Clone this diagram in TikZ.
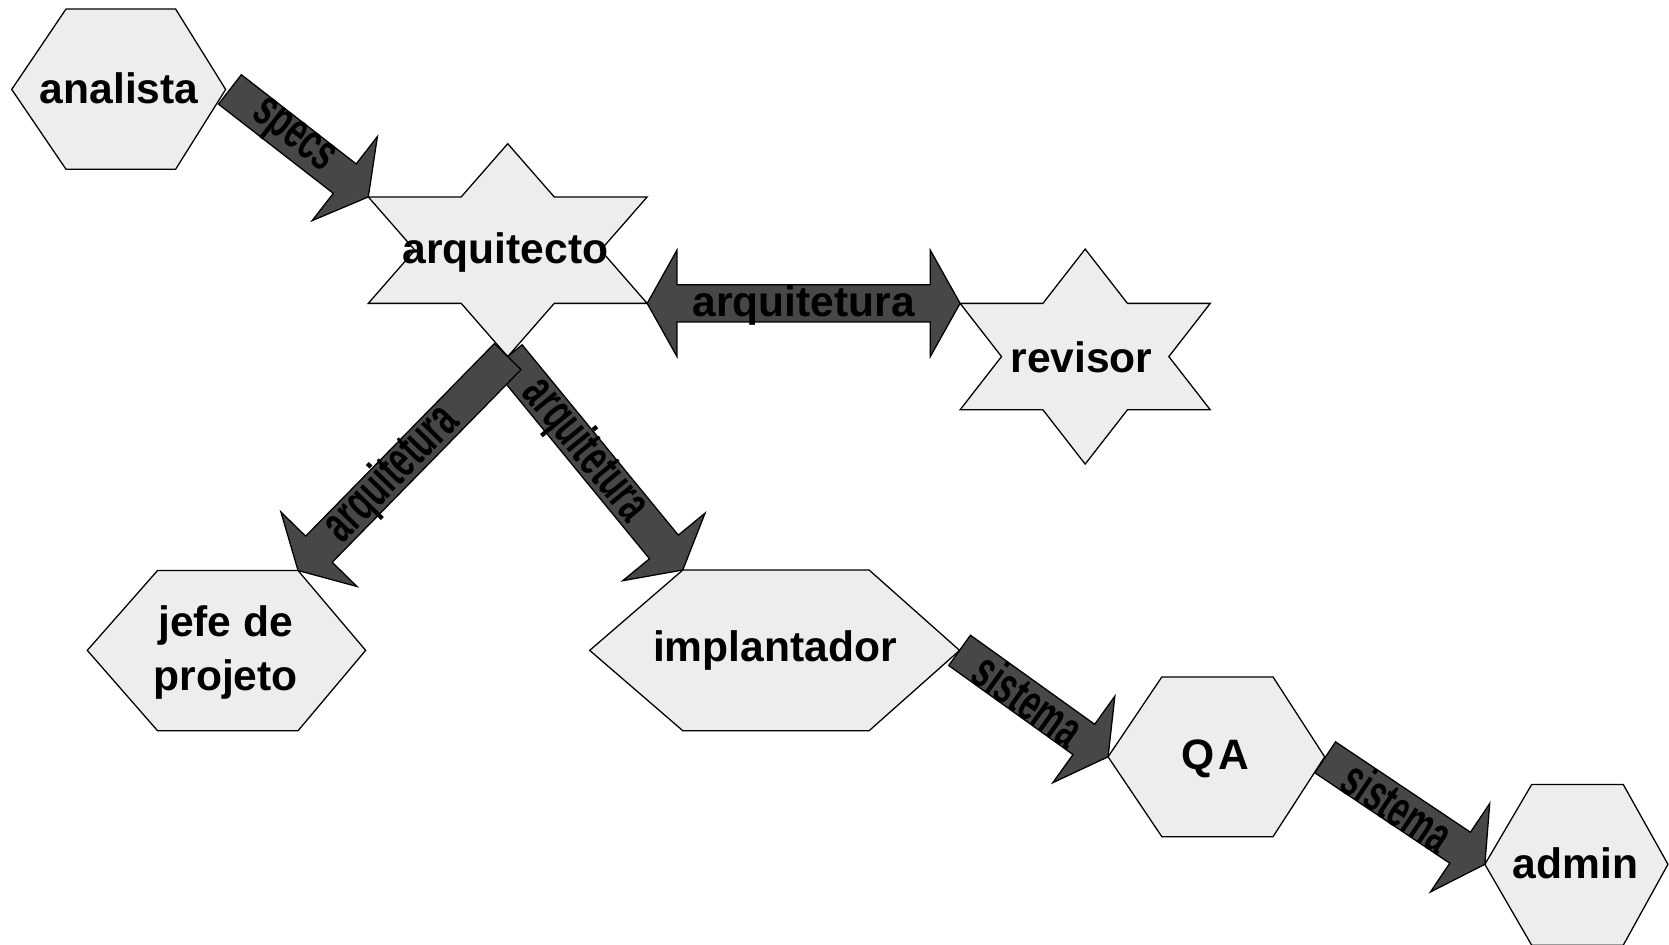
\documentclass[tikz,border=0pt]{standalone}
\usepackage{fontspec}
\setmainfont{Liberation Sans}
\usetikzlibrary{calc}
\definecolor{shapefill}{RGB}{237,237,237}
\definecolor{arrowfill}{RGB}{71,71,71}
\tikzset{
  shapebox/.style={fill=shapefill, draw=black, line width=1.2pt, line join=miter},
  arrowbody/.style={fill=arrowfill, draw=black, line width=1.2pt, line join=miter},
  nodetext/.style={font=\fontsize{40}{50}\selectfont\bfseries, inner sep=0pt, align=center},
  lbl/.style={font=\fontsize{40}{48}\selectfont\bfseries, inner sep=0pt, text=black},
}
% #1 tail, #2 tip, #3 label node name, #4 label text, #5 label position
\newcommand\blockarrow[5]{%
  \path (#1); \pgfgetlastxy{\bxa}{\bya}%
  \path (#2); \pgfgetlastxy{\bxb}{\byb}%
  \pgfmathsetmacro\bang{atan2((\byb)-(\bya),(\bxb)-(\bxa))}%
  \pgfmathsetmacro\blen{veclen((\bxb)-(\bxa),(\byb)-(\bya))}%
  \pgfmathsetmacro\blab{(\bang<-90) ? (\bang+180) : ((\bang>90) ? (\bang-180) : \bang)}%
  \begin{scope}[shift={(\bxa,\bya)}, rotate=\bang]
    \draw[arrowbody] (0pt,-17.5pt) -- ({\blen pt-28pt},-17.5pt) -- ({\blen pt-28pt},-50pt)
      -- (\blen pt,0pt) -- ({\blen pt-28pt},50pt) -- ({\blen pt-28pt},17.5pt) -- (0pt,17.5pt) -- cycle;
    \node[lbl, rotate=\blab] (#3) at ({#5*\blen pt},0pt) {\scalebox{0.76}[1.22]{#4}};
  \end{scope}}
\begin{document}
\begin{tikzpicture}[x=1pt,y=-1pt]
\fill[white] (0,0) rectangle (1568,887);
\useasboundingbox (0,0) rectangle (1568,887);

% analista
\draw[shapebox] (11,84) -- (62,8.5) -- (165,8.5) -- (212,84) -- (165,159) -- (62,159) -- cycle;
\node[nodetext] (analista) at (112,83) {analista};
\coordinate (analista-out) at (216,84);

% arquitecto
\draw[shapebox] (477,135) -- (520.7,185) -- (608,185) -- (564.3,235) -- (608,285) -- (520.7,285)
  -- (477,335) -- (433.3,285) -- (346,285) -- (389.7,235) -- (346,185) -- (433.3,185) -- cycle;
\node[nodetext] (arquitecto) at (475,237) {arquitecto};
\coordinate (arq-nw) at (346,185);
\coordinate (arq-se) at (608,285);
\coordinate (arq-s) at (477,335);

% revisor
\draw[shapebox] (1019.5,234) -- (1059.2,285) -- (1137,285) -- (1098.1,335) -- (1137,385) -- (1059.2,385)
  -- (1019.5,436) -- (979.8,385) -- (902,385) -- (940.9,335) -- (902,285) -- (979.8,285) -- cycle;
\node[nodetext] (revisor) at (1016,336) {revisor};
\coordinate (rev-nw) at (902,285);

% jefe de projeto
\draw[shapebox] (82,611) -- (148,536) -- (280,536) -- (343.5,611) -- (280,686.5) -- (148,686.5) -- cycle;
\node[nodetext] (jefe) at (212,613) {jefe de\\projeto};
\coordinate (jefe-ne) at (280,536);

% implantador
\draw[shapebox] (554,611) -- (641.5,535.5) -- (816.5,535.5) -- (901.5,611) -- (816.5,686.5) -- (641.5,686.5) -- cycle;
\node[nodetext] (implantador) at (728,611) {implantador};
\coordinate (imp-nw) at (641.5,535.5);
\coordinate (imp-e) at (901.5,611);

% QA
\draw[shapebox] (1041,711) -- (1091.5,636) -- (1196,636) -- (1244.5,711) -- (1196,786) -- (1091.5,786) -- cycle;
\node[nodetext] (qa) at (1142,713) {Q\kern4pt A};
\coordinate (qa-w) at (1041,711);
\coordinate (qa-e) at (1245,711.5);

% admin
\draw[shapebox] (1395,812) -- (1439,737) -- (1525,737) -- (1567,812) -- (1525,888) -- (1439,888) -- cycle;
\node[nodetext] (admin) at (1480,811) {admin};
\coordinate (admin-w) at (1395,812);

% arrows
\blockarrow{analista-out}{arq-nw}{lab-specs}{specs}{0.45}
\blockarrow{arq-s}{imp-nw}{lab-imp}{arquitetura}{0.44}
\blockarrow{arq-s}{jefe-ne}{lab-jefe}{arquitetura}{0.55}

\draw[arrowbody] (arq-se) -- ++(28,-50) -- ++(0,32.5) -- ($(rev-nw)+(-28,-17.5)$) -- ++(0,-32.5)
  -- (rev-nw) -- ++(-28,50) -- ++(0,-32.5) -- ($(arq-se)+(28,17.5)$) -- ++(0,32.5) -- cycle;
\node[lbl] (lab-rev) at ($(arq-se)!0.5!(rev-nw)+(0,2)$) {arquitetura};

\blockarrow{imp-e}{qa-w}{lab-sis1}{sistema}{0.465}
\blockarrow{qa-e}{admin-w}{lab-sis2}{sistema}{0.456}
\end{tikzpicture}
\end{document}
